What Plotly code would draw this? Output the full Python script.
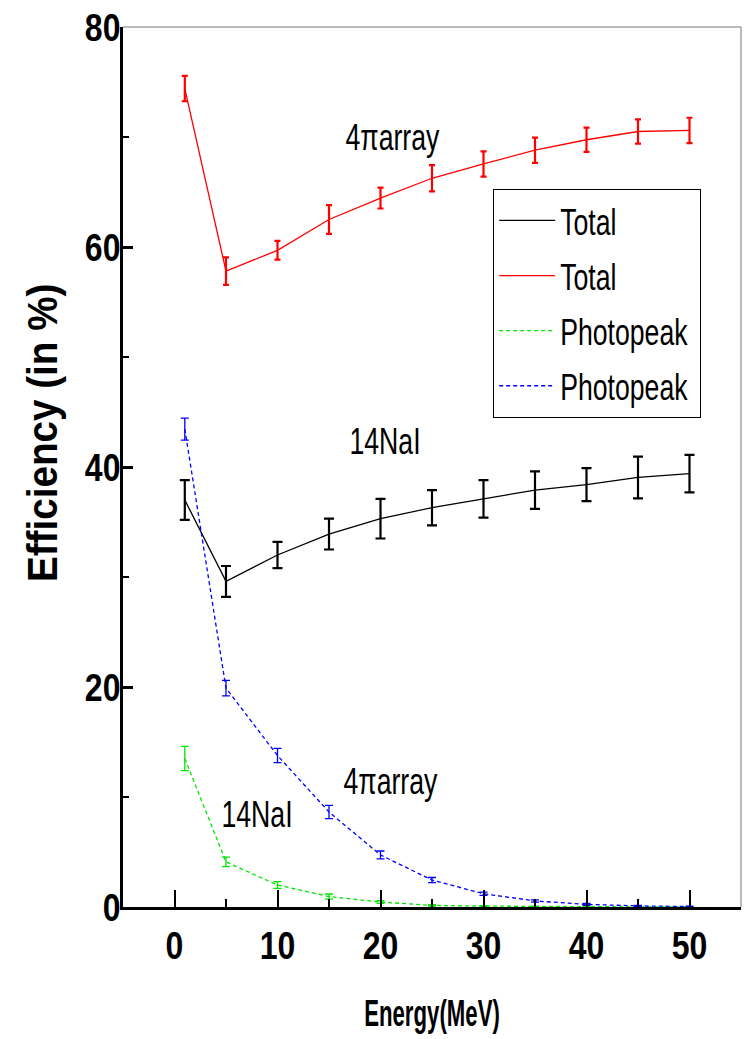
import plotly.graph_objects as go

energy = [1, 5, 10, 15, 20, 25, 30, 35, 40, 45, 50]

nai_total = [37.0, 29.6, 32.0, 33.9, 35.3, 36.3, 37.1, 37.9, 38.4, 39.05, 39.4]
nai_total_err = [1.8, 1.4, 1.2, 1.4, 1.8, 1.6, 1.7, 1.7, 1.5, 1.9, 1.7]

array_total = [74.4, 57.8, 59.7, 62.5, 64.45, 66.25, 67.55, 68.8, 69.75, 70.5, 70.6]
array_total_err = [1.15, 1.25, 0.85, 1.3, 0.95, 1.2, 1.15, 1.15, 1.1, 1.1, 1.15]

nai_photo = [13.5, 4.1, 2.0, 0.95, 0.45, 0.15, 0.08, 0.04, 0.02, 0.01, 0.01]
nai_photo_err = [1.1, 0.43, 0.3, 0.23, 0.12, 0.06, 0.05, 0.03, 0.02, 0.01, 0.01]

array_photo = [43.45, 19.9, 13.77, 8.64, 4.73, 2.45, 1.21, 0.55, 0.24, 0.1, 0.04]
array_photo_err = [1.0, 0.7, 0.65, 0.6, 0.36, 0.23, 0.15, 0.1, 0.08, 0.05, 0.03]

legend_names = ["Total", "Total", "Photopeak", "Photopeak"]
labels = [
    ("4\u03c0array", 21.2, 70.0),
    ("14NaI", 20.4, 42.3),
    ("4\u03c0array", 21.0, 11.45),
    ("14NaI", 8.0, 8.4),
]
x_title = "Energy(MeV)"
y_title = "Efficiency (in %)"

FONT = "Liberation Sans, Arial, sans-serif"

fig = go.Figure()

series = [
    (nai_total, nai_total_err, "black", "solid", 5, 2.2, 1.3),
    (array_total, array_total_err, "#ff0000", "solid", 3, 2.2, 1.3),
    (nai_photo, nai_photo_err, "#00e600", "4px,3px", 4, 1.3, 1.3),
    (array_photo, array_photo_err, "#0000ff", "4px,3px", 4, 1.3, 1.3),
]
for i, (vals, errs, col, dash, capw, ethick, lw) in enumerate(series):
    fig.add_trace(go.Scatter(
        x=energy, y=vals, mode="lines", name=legend_names[i],
        legendgroup=f"g{i}",
        line=dict(color=col, width=lw, dash=dash),
        error_y=dict(type="data", array=errs, visible=True, color=col,
                     thickness=ethick, width=capw),
    ))

for txt, lx, ly in labels:
    fig.add_annotation(x=lx, y=ly, text=txt, showarrow=False,
                       font=dict(family=FONT, size=36, color="black"))

# y-axis title (sits slightly above the axis centre in the reference)
fig.add_annotation(xref="paper", yref="paper", x=0, y=0.5386, xshift=-81,
                   text=y_title, textangle=-90, showarrow=False,
                   xanchor="center", yanchor="middle",
                   font=dict(family=FONT, size=42, color="black", weight="bold"),
                   name="ytitle")

# thin frame on top and right
fig.add_shape(type="line", xref="paper", yref="paper", x0=0, x1=1, y0=1, y1=1,
              line=dict(color="#777777", width=1))
fig.add_shape(type="line", xref="paper", yref="paper", x0=1, x1=1, y0=0, y1=1,
              line=dict(color="#777777", width=1))

fig.update_layout(
    width=746, height=1039,
    margin=dict(l=123, r=5, t=27, b=132, autoexpand=False),
    paper_bgcolor="white", plot_bgcolor="white",
    font=dict(family=FONT, color="black"),
    legend=dict(
        x=0.599, y=0.816, xanchor="left", yanchor="top",
        bordercolor="black", borderwidth=1, bgcolor="white",
        font=dict(family=FONT, size=37, color="black"),
        tracegroupgap=4, itemwidth=56,
    ),
    xaxis=dict(
        range=[-5, 55], tick0=0, dtick=10, automargin=False,
        showgrid=False, zeroline=False,
        showline=True, linecolor="black", linewidth=3,
        ticks="inside", ticklen=17, tickwidth=2, tickcolor="black",
        ticklabelstandoff=2,
        tickfont=dict(family=FONT, size=39, color="black", weight="bold"),
        minor=dict(dtick=5, tick0=0, ticks="inside", ticklen=8, tickwidth=2,
                   tickcolor="black", showgrid=False),
        title=dict(text=x_title, standoff=35,
                   font=dict(family=FONT, size=37, color="black", weight="bold")),
    ),
    yaxis=dict(
        range=[0, 80], tick0=0, dtick=20, automargin=False,
        showgrid=False, zeroline=False,
        showline=True, linecolor="black", linewidth=2.5,
        ticks="inside", ticklen=10, tickwidth=2.5, tickcolor="black",
        ticklabelstandoff=-8,
        tickfont=dict(family=FONT, size=39, color="black", weight="bold"),
        minor=dict(dtick=10, tick0=0, ticks="inside", ticklen=6, tickwidth=2,
                   tickcolor="black", showgrid=False),
    ),
)

# The reference uses a very condensed typeface; compress the glyphs
# horizontally with SVG textLength once the figure has been drawn.
post = """
var gd = document.getElementById('{plot_id}');
function sqEl(el, f) {
  var w = el.getComputedTextLength();
  if (w > 0) {
    el.setAttribute('lengthAdjust', 'spacingAndGlyphs');
    el.setAttribute('textLength', (w * f).toFixed(1));
  }
  return w;
}
function sq(sel, f) {
  var res = [];
  gd.querySelectorAll(sel).forEach(function (el) { res.push(sqEl(el, f)); });
  return res;
}
sq('g.xtick text', 0.82);
sq('g.ytick text', 0.82);
gd.querySelectorAll('text.annotation-text').forEach(function (el) {
  var t = el.textContent;
  if (t.indexOf('Efficiency') === 0) { sqEl(el, 0.92); } else { sqEl(el, 0.74); }
});
sq('text.xtitle', 0.6);
var LF = 0.72;
var lw = sq('text.legendtext', LF);
if (lw.length) {
  var mx = Math.max.apply(null, lw);
  var delta = mx * (1 - LF);
  gd.querySelectorAll('g.legend rect.bg').forEach(function (r) {
    var w0 = parseFloat(r.getAttribute('width'));
    r.setAttribute('width', (w0 - delta + 6).toFixed(1));
  });
}
"""

fig.write_html("out.html", post_script=post)
